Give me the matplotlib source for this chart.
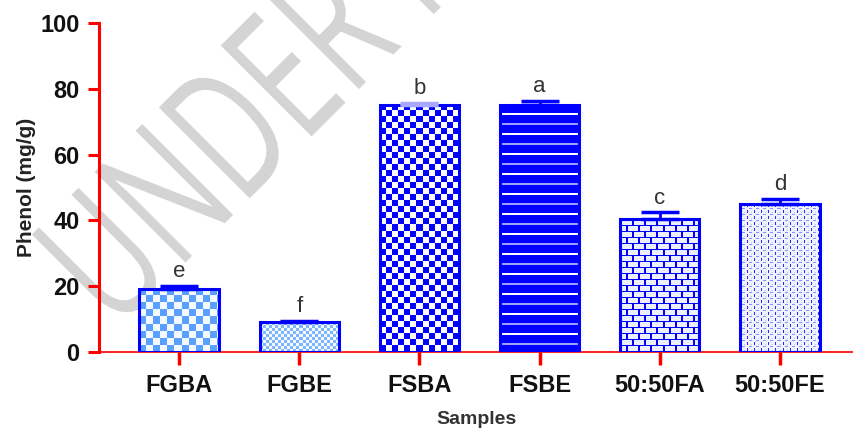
import matplotlib
matplotlib.use('Agg')
import matplotlib.pyplot as plt
import numpy as np
from matplotlib.textpath import TextPath
from matplotlib.patches import PathPatch
from matplotlib.font_manager import FontProperties
from matplotlib.transforms import Affine2D

# data
samples = ['FGBA', 'FGBE', 'FSBA', 'FSBE', '50:50FA', '50:50FE']
phenol = [19.2, 9.1, 75.1, 75.0, 40.4, 44.9]
phenol_err = [0.8, 0.4, 0.5, 1.3, 2.0, 1.6]
letters = ['e', 'f', 'b', 'a', 'c', 'd']

blue = '#0000ff'
red = '#ff0000'
err_cols = [blue, blue, '#a8a8ff', blue, blue, blue]


def checker(cell, c1, c2):
    t = np.zeros((2 * cell, 2 * cell, 3))
    t[:, :] = c1
    t[:cell, cell:] = c2
    t[cell:, :cell] = c2
    return t


def stripes():
    t = np.zeros((20, 4, 3))
    t[:, :] = (0, 0, 1)
    t[8:10] = (1, 1, 1)
    t[18:20] = (0.62, 0.62, 1)
    return t


def bricks():
    t = np.zeros((12, 12, 3))
    t[:, :] = (0.93, 0.94, 1)
    t[0, :] = (0, 0, 1)
    t[6, :] = (0, 0, 1)
    t[1:6, 0:2] = (0, 0, 1)
    t[7:12, 6:8] = (0, 0, 1)
    return t


def dashes():
    t = np.zeros((6, 7, 3))
    t[:, :] = (0.94, 0.95, 1)
    t[0:3, 0] = (0.15, 0.15, 1)
    t[4, 2:5] = (0.55, 0.55, 1)
    t[2, 4] = (0.75, 0.75, 1)
    return t


# fill texture per bar
tiles = [checker(7, (0.35, 0.63, 1), (0.96, 0.98, 1)),
         checker(3, (0.48, 0.72, 1), (0.97, 0.98, 1)),
         checker(6, (0, 0, 1), (1, 1, 1)),
         stripes(), bricks(), dashes()]

fig = plt.figure(figsize=(8.54, 4.33), dpi=100)
ax = fig.add_axes([0.116, 0.187, 0.884, 0.76])
ax.patch.set_alpha(0)

# watermark: narrow letters, rotated, behind the axes (pixel coords)
wm = TextPath((0, 0), 'UNDER REVIEW', size=180, prop=FontProperties(family='Open Sans'))
wm_tr = Affine2D().scale(0.67, 1).rotate_deg(45).translate(115, 100)
fig.patches.append(PathPatch(wm, transform=wm_tr, facecolor='#d4d4d4',
                             linewidth=0, zorder=-1))

ax.set_xlim(-0.666, 5.616)
ax.set_ylim(0, 100)

x = np.arange(len(samples))
bars = ax.bar(x, phenol, width=0.66, color='none', edgecolor=blue,
              linewidth=2.2, zorder=3)

# fill each bar with its texture, sized to the bar in pixels
for rect, tile in zip(bars, tiles):
    bb = rect.get_window_extent()
    w, h = int(round(bb.width)), int(round(bb.height))
    img = np.tile(tile, (h // tile.shape[0] + 1, w // tile.shape[1] + 1, 1))[:h, :w]
    x0 = rect.get_x()
    ax.imshow(img, extent=(x0, x0 + rect.get_width(), 0, rect.get_height()),
              aspect='auto', interpolation='nearest', zorder=2)

ax.set_xlim(-0.666, 5.616)
ax.set_ylim(0, 100)

for i in range(len(samples)):
    ax.errorbar(x[i], phenol[i], yerr=[[0], [phenol_err[i]]], fmt='none',
                ecolor=err_cols[i], elinewidth=2, capsize=14, capthick=2.5,
                zorder=4)
    ax.text(x[i], phenol[i] + phenol_err[i] + 1.2, letters[i], ha='center',
            va='bottom', fontsize=16, family='Liberation Sans', color='#333333')

ax.set_yticks([0, 20, 40, 60, 80, 100])
ax.set_xticks(x)
ax.set_xticklabels(samples)

for s in ['top', 'right']:
    ax.spines[s].set_visible(False)
ax.spines['left'].set_color(red)
ax.spines['left'].set_linewidth(2.2)
ax.spines['bottom'].set_color(red)
ax.spines['bottom'].set_linewidth(1.2)

ax.tick_params(axis='y', colors=red, length=8, width=2.2, pad=6,
               labelcolor='#111111', labelsize=17)
ax.tick_params(axis='x', colors=red, length=9, width=2.5, pad=7,
               labelcolor='#111111', labelsize=17)
for lab in ax.get_xticklabels() + ax.get_yticklabels():
    lab.set_family('Liberation Sans')
    lab.set_fontweight('bold')

ax.set_ylabel('Phenol (mg/g)', fontsize=15, fontweight='bold',
              family='Liberation Sans', color='#222222', labelpad=3)
ax.set_xlabel('Samples', fontsize=14, fontweight='bold',
              family='Liberation Sans', color='#333333', labelpad=10)

fig.savefig('out.png', dpi=100)
